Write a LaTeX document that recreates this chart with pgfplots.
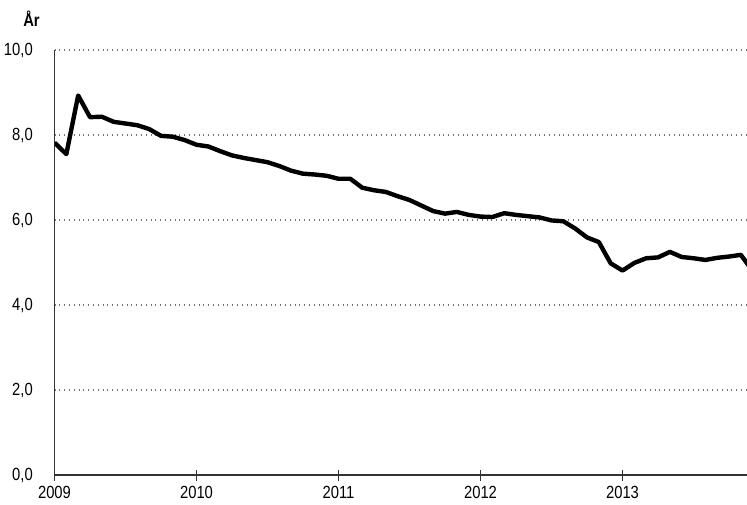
\documentclass[border=0pt]{standalone}
\usepackage{pgfplots}
\pgfplotsset{compat=1.18}
\usepackage{fontspec}
\setmainfont{Liberation Sans}[FakeStretch=0.84]
\begin{document}
\fontsize{8.8pt}{10pt}\selectfont
\begin{tikzpicture}
\useasboundingbox (-27.25pt,-14.5pt) rectangle (346.25pt,237.5pt);
\begin{axis}[
  name=ax,
  at={(0,0)}, anchor=origin,
  width=346.25pt, height=212.5pt, scale only axis,
  xmin=0, xmax=58.52, ymin=0, ymax=10,
  axis lines=left,
  axis line style={-, line width=0.7pt, color=black!80},
  xtick={0,12,24,36,48},
  xticklabels={2009,2010,2011,2012,2013},
  ytick={0,2,4,6,8,10},
  yticklabels={{0,0},{2,0},{4,0},{6,0},{8,0},{10,0}},
  tick align=center,
  major tick length=5.5pt,
  ytick style={draw=none},
  xtick style={line width=0.6pt, color=black!80},
  ymajorgrids,
  grid style={dotted, line width=0.6pt, color=black!55},
  tick label style={font=\fontsize{8.8pt}{10pt}\selectfont},
  yticklabel style={xshift=-5pt},
  xticklabel style={yshift=-1.8pt, inner sep=1pt},
  /pgf/number format/assume math mode=true,
  clip=true,
]
\addplot[black, line width=2.2pt, line join=round] coordinates {
(0,7.82) (1,7.55) (2,8.93) (3,8.42) (4,8.43) (5,8.31) (6,8.27) (7,8.23)
(8,8.14) (9,7.98) (10,7.96) (11,7.88) (12,7.77) (13,7.73) (14,7.62) (15,7.52)
(16,7.46) (17,7.41) (18,7.36) (19,7.27) (20,7.16) (21,7.09) (22,7.07) (23,7.04)
(24,6.97) (25,6.97) (26,6.76) (27,6.70) (28,6.66) (29,6.56) (30,6.47) (31,6.34)
(32,6.21) (33,6.15) (34,6.19) (35,6.12) (36,6.08) (37,6.07) (38,6.16) (39,6.12)
(40,6.09) (41,6.06) (42,5.99) (43,5.97) (44,5.80) (45,5.59) (46,5.48) (47,4.98)
(48,4.81) (49,4.99) (50,5.10) (51,5.12) (52,5.25) (53,5.13) (54,5.10) (55,5.06)
(56,5.11) (57,5.14) (58,5.18) (59,4.80)
};
\end{axis}
\node[anchor=base, font=\bfseries\fontsize{8.8pt}{10pt}\selectfont] at (-11.5pt, 224pt) {År};
\end{tikzpicture}
\end{document}
